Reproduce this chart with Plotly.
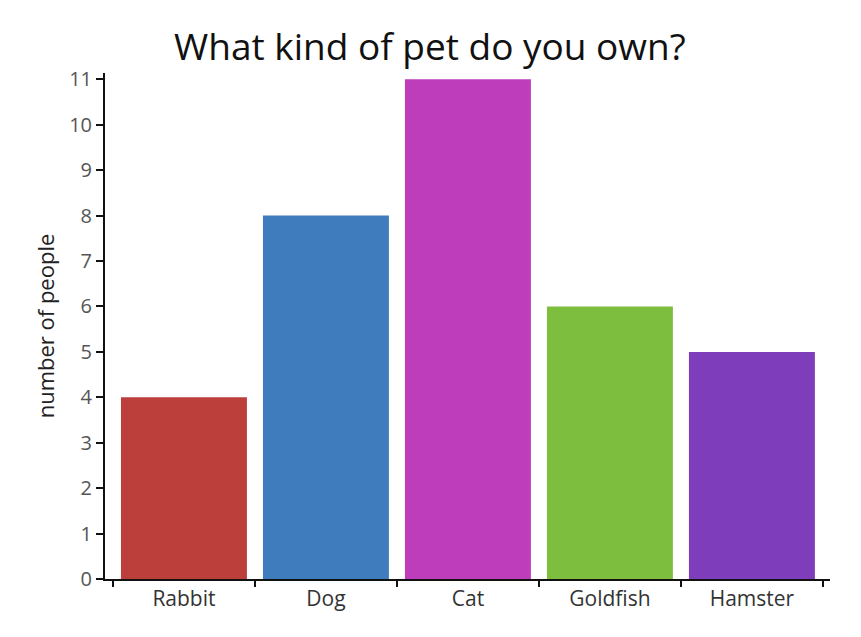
import plotly.graph_objects as go

pets = ["Rabbit", "Dog", "Cat", "Goldfish", "Hamster"]
owners = [4, 8, 11, 6, 5]
bar_colors = ["#bc3f3c", "#3e7cbd", "#bd3dbb", "#7dbe3f", "#7e3ebc"]
y_ticks = list(range(0, 12))

fig = go.Figure(
    go.Bar(
        x=pets,
        y=owners,
        marker=dict(color=bar_colors, line=dict(width=0)),
        hoverinfo="x+y",
    )
)

# page body adds an 8px offset, margins take it into account
fig.update_layout(
    width=861,
    height=637,
    margin=dict(l=97, r=39, t=65, b=66),
    paper_bgcolor="white",
    plot_bgcolor="white",
    bargap=0.113,
    showlegend=False,
    font=dict(family="Open Sans, Noto Sans, sans-serif", color="#333"),
    title=dict(
        text="What kind of pet do you own?",
        x=0.49,
        xanchor="center",
        y=0.939,
        yanchor="middle",
        font=dict(size=37, color="#111"),
    ),
)

fig.update_xaxes(
    range=[-0.556, 4.55],
    showline=True,
    linecolor="#111",
    linewidth=2,
    ticks="outside",
    tickson="boundaries",
    ticklen=6,
    tickwidth=2,
    tickcolor="#111",
    tickfont=dict(size=21, color="#333"),
    showgrid=False,
    zeroline=False,
)

fig.update_yaxes(
    range=[0, 11.14],
    tickvals=y_ticks,
    showline=True,
    linecolor="#111",
    linewidth=2,
    ticks="outside",
    ticklen=7,
    tickwidth=1.5,
    tickcolor="#111",
    tickfont=dict(size=20, color="#555"),
    showgrid=False,
    zeroline=False,
    title=dict(text="number of people", font=dict(size=22, color="#222"), standoff=8),
)

fig.write_html("out.html")
